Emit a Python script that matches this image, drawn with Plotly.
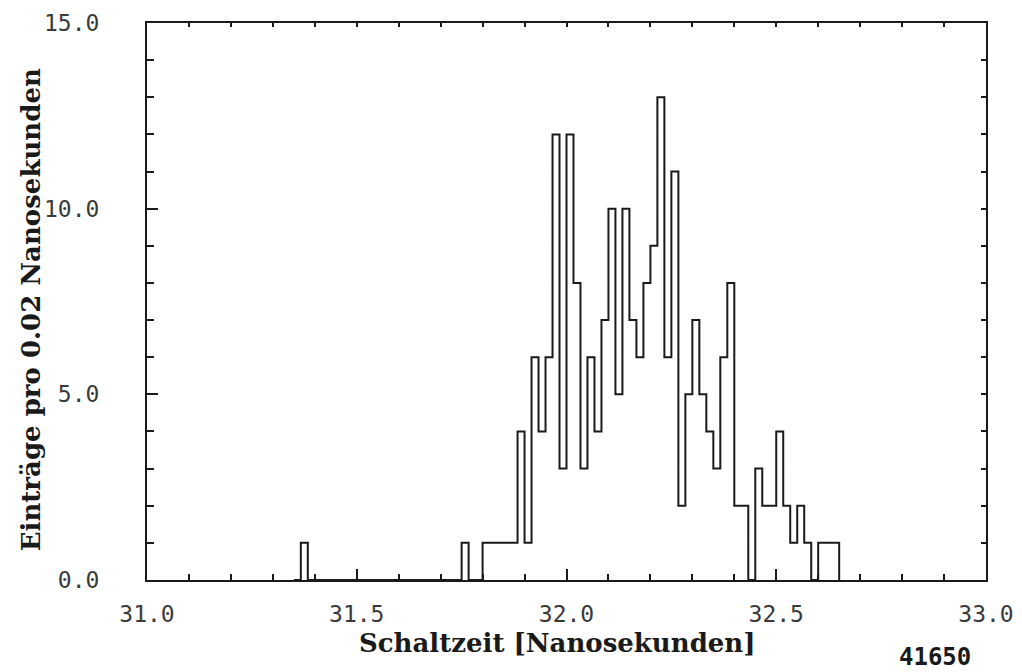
import plotly.graph_objects as go

# ---- data ----
bin_width = 1.0 / 60.0          # histogram bin width (ns)
first_bin_start = 31.35         # left edge of first listed bin
counts = [
    0, 1,                                   # 31.35 .. 31.383
    0, 0, 0, 0, 0, 0, 0, 0, 0, 0, 0,
    0, 0, 0, 0, 0, 0, 0, 0, 0, 0, 0,        # empty bins up to 31.75
    1, 0, 0,                                # 31.75 ..
    1, 1, 1, 1, 1,                          # 31.80 .. 31.883
    4, 1, 6, 4, 6, 12, 3,                   # .. 32.0
    12, 8, 3, 6, 4, 7, 10, 5, 10, 7, 6, 8,  # 32.0 .. 32.2
    9, 13, 6, 11, 2, 5, 7, 5, 4, 3, 6, 8,   # 32.2 .. 32.4
    2, 2, 0, 3, 2, 2,                       # 32.4 .. 32.5
    4, 2, 1, 2, 1, 0, 1, 1, 1,              # 32.5 .. 32.65
]
x_ticks = [31.0, 31.5, 32.0, 32.5, 33.0]
y_ticks = [0.0, 5.0, 10.0, 15.0]
x_title = "Schaltzeit [Nanosekunden]"
y_title = "Einträge pro 0.02 Nanosekunden"
run_label = "41650"

# ---- build step outline from bins ----
edges = [first_bin_start + i * bin_width for i in range(len(counts) + 1)]
xs = [edges[0]] + edges[:-1] + [edges[-1], edges[-1]]
ys = [0] + counts + [counts[-1], 0]

ink = "#1a1a1a"
fig = go.Figure()
fig.add_trace(go.Scatter(x=xs, y=ys, mode="lines", line=dict(shape="hv", color=ink, width=2),
                         showlegend=False, hoverinfo="skip"))
# invisible trace on secondary axes so they render
fig.add_trace(go.Scatter(x=[31, 33], y=[0, 15], xaxis="x2", yaxis="y2", mode="markers",
                         marker=dict(opacity=0), showlegend=False, hoverinfo="skip"))

tick_font = dict(family="DejaVu Sans Mono", size=23, color="#3a3a3a")
fig.update_layout(
    width=1014, height=664,
    margin=dict(l=139, r=36, t=15, b=92, autoexpand=False),
    paper_bgcolor="white", plot_bgcolor="white",
    xaxis=dict(range=[31, 33], tickvals=x_ticks, ticktext=[f"{v:.1f}" for v in x_ticks],
               ticks="inside", ticklen=11, tickwidth=1.5, tickcolor=ink,
               minor=dict(dtick=0.1, ticks="inside", ticklen=6, tickwidth=1.5, tickcolor=ink, showgrid=False),
               showline=True, linecolor=ink, linewidth=2, showgrid=False, zeroline=False,
               tickfont=tick_font, ticklabelstandoff=12, automargin=False),
    yaxis=dict(range=[0, 15], tickvals=y_ticks, ticktext=[f"{v:.1f}" for v in y_ticks],
               ticks="inside", ticklen=11, tickwidth=1.5, tickcolor=ink,
               minor=dict(dtick=1, ticks="inside", ticklen=7, tickwidth=1.5, tickcolor=ink, showgrid=False),
               showline=True, linecolor=ink, linewidth=2, showgrid=False, zeroline=False,
               tickfont=tick_font, ticklabelstandoff=41, automargin=False),
    xaxis2=dict(range=[31, 33], overlaying="x", side="top", dtick=0.1, tick0=31,
                ticks="inside", ticklen=4, tickwidth=1.5, tickcolor=ink, showticklabels=False,
                showline=True, linecolor=ink, linewidth=2, showgrid=False, zeroline=False,
                automargin=False),
    yaxis2=dict(range=[0, 15], overlaying="y", side="right", dtick=1, tick0=0,
                ticks="inside", ticklen=5, tickwidth=1.5, tickcolor=ink, showticklabels=False,
                showline=True, linecolor=ink, linewidth=2, showgrid=False, zeroline=False,
                automargin=False),
    annotations=[
        dict(text=f"<b>{x_title}</b>", xref="paper", yref="paper", x=0.4887, y=-0.113,
             showarrow=False, xanchor="center", yanchor="middle",
             font=dict(family="DejaVu Serif", size=26, color=ink)),
        dict(text=f"<b>{y_title}</b>", xref="paper", yref="paper", x=-0.139, y=0.485,
             textangle=-90, showarrow=False, xanchor="center", yanchor="middle",
             font=dict(family="DejaVu Serif", size=26, color=ink)),
        dict(text=f"<b>{run_label}</b>", xref="paper", yref="paper", x=0.939, y=-0.138,
             showarrow=False, xanchor="center", yanchor="middle",
             font=dict(family="DejaVu Sans Mono", size=24, color=ink)),
    ],
)
fig.write_html("out.html")
